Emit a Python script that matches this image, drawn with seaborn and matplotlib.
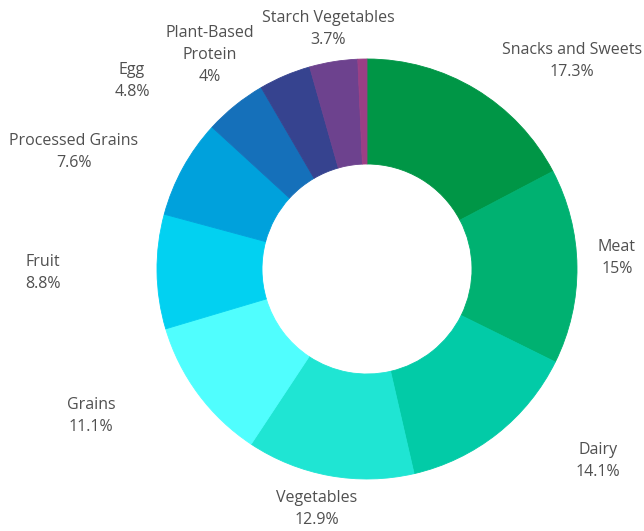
import matplotlib
matplotlib.use("Agg")
import matplotlib.pyplot as plt
import seaborn as sns

categories = ["Snacks and Sweets", "Meat", "Dairy", "Vegetables", "Grains", "Fruit",
              "Processed Grains", "Egg", "Plant-Based\nProtein", "Starch Vegetables", "Other"]
values = [17.3, 15, 14.1, 12.9, 11.1, 8.8, 7.6, 4.8, 4, 3.7, 0.7]
pct_labels = ["17.3%", "15%", "14.1%", "12.9%", "11.1%", "8.8%", "7.6%", "4.8%", "4%", "3.7%", ""]
colors = ["#009646", "#00b171", "#02cba7", "#1fe5d3", "#50fefe", "#02d1f1",
          "#00a1dc", "#1570ba", "#36438f", "#6d428e", "#9b3f85"]

# label anchor positions in pie-radius units (layout only)
label_xy = [(0.976, 0.990), (1.190, 0.052), (1.100, -0.914), (-0.238, -1.143),
            (-1.314, -0.700), (-1.543, -0.019), (-1.395, 0.557), (-1.119, 0.895),
            (-0.748, 1.019), (-0.186, 1.143), None]

sns.set_theme(style="white")
plt.rcParams["font.family"] = ["Open Sans", "DejaVu Sans"]
palette = sns.color_palette(colors)

fig = plt.figure(figsize=(6.44, 5.31), dpi=100)
ax = fig.add_axes([0, 0, 1, 1])
wedges, _ = ax.pie(values, colors=palette, startangle=90, counterclock=False,
                   radius=1.0, wedgeprops=dict(width=0.5, linewidth=0.6))
for w, c in zip(wedges, palette):
    w.set_edgecolor(c)

for cat, pct, xy in zip(categories, pct_labels, label_xy):
    if xy is None:
        continue
    ax.text(xy[0], xy[1], f"{cat}\n{pct}", ha="center", va="center",
            fontsize=11.5, color="#505050", linespacing=1.5)

cx, cy, r = 367, 269, 210
ax.set_xlim(-cx / r, (644 - cx) / r)
ax.set_ylim(-(531 - cy) / r, cy / r)
ax.set_aspect("equal")
ax.axis("off")
fig.savefig("out.png", dpi=100, facecolor="white")
